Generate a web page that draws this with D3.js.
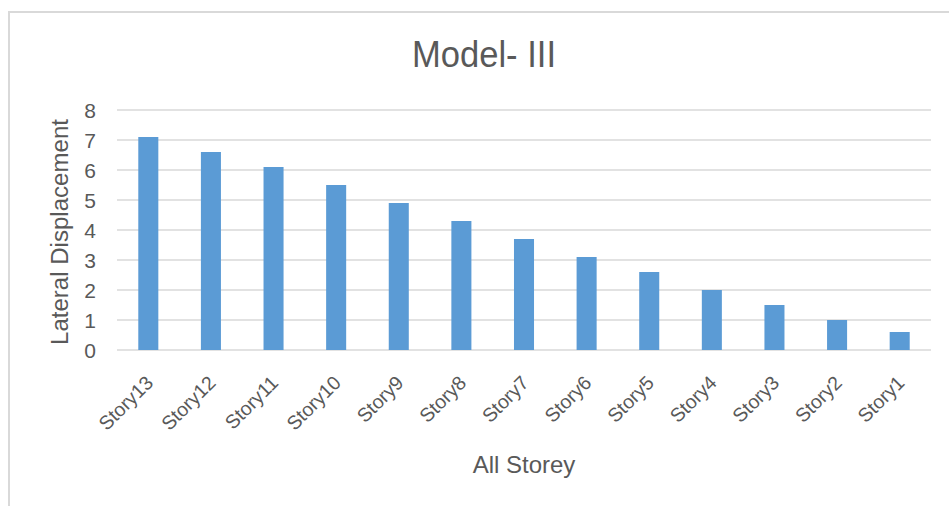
<!DOCTYPE html>
<html>
<head>
<meta charset="utf-8">
<script src="https://cdn.jsdelivr.net/npm/d3@7"></script>
<style>
  html, body { margin: 0; padding: 0; background: #fff; }
  svg { display: block; }
</style>
</head>
<body>
<svg id="chart" width="949" height="506"></svg>
<script>
// Storey labels, top floor first
const categories = ["Story13", "Story12", "Story11", "Story10", "Story9", "Story8", "Story7",
                    "Story6", "Story5", "Story4", "Story3", "Story2", "Story1"];
// Lateral displacement per storey
const displacement = [7.1, 6.6, 6.1, 5.5, 4.9, 4.3, 3.7, 3.1, 2.6, 2.0, 1.5, 1.0, 0.6];
const yTicks = [0, 1, 2, 3, 4, 5, 6, 7, 8];

const titleText = "Model- III";
const xTitle = "All Storey";
const yTitle = "Lateral Displacement";

const svg = d3.select("#chart");
const textColor = "#595959";
const gridColor = "#D9D9D9";
const barColor = "#5B9BD5";
const font = "'Liberation Sans', Arial, sans-serif";

// chart frame (runs off the right and bottom edges)
svg.append("path")
  .attr("d", "M9,520 L9,12 L960,12")
  .attr("fill", "none")
  .attr("stroke", gridColor)
  .attr("stroke-width", 2);

const plot = { left: 117, right: 931, top: 110, bottom: 350 };

const x = d3.scaleBand()
  .domain(categories)
  .range([plot.left, plot.right])
  .paddingInner(0.68)
  .paddingOuter(0.34);

const y = d3.scaleLinear()
  .domain([0, 8])
  .range([plot.bottom, plot.top]);

// horizontal gridlines
svg.append("g")
  .selectAll("line")
  .data(yTicks)
  .join("line")
  .attr("x1", plot.left)
  .attr("x2", plot.right)
  .attr("y1", d => y(d))
  .attr("y2", d => y(d))
  .attr("stroke", gridColor)
  .attr("stroke-width", 1.5);

// bars
svg.append("g")
  .selectAll("rect")
  .data(categories)
  .join("rect")
  .attr("x", d => x(d))
  .attr("width", x.bandwidth())
  .attr("y", (d, i) => y(displacement[i]))
  .attr("height", (d, i) => y(0) - y(displacement[i]))
  .attr("fill", barColor);

// y axis tick labels
const yAxis = d3.axisLeft(y).tickValues(yTicks).tickSize(0).tickPadding(0).tickFormat(d3.format("d"));
const gy = svg.append("g")
  .attr("transform", `translate(${plot.left - 21},0)`)
  .call(yAxis);
gy.select(".domain").remove();
gy.selectAll("text")
  .attr("fill", textColor)
  .attr("font-family", font)
  .attr("font-size", 21)
  .attr("dy", "0.36em");

// x axis tick labels, rotated
const xAxis = d3.axisBottom(x).tickSize(0).tickPadding(0);
const gx = svg.append("g")
  .attr("transform", `translate(0,${plot.bottom})`)
  .call(xAxis);
gx.select(".domain").remove();
gx.selectAll("text")
  .attr("fill", textColor)
  .attr("font-family", font)
  .attr("font-size", 19.5)
  .attr("text-anchor", "end")
  .attr("dy", 0)
  .attr("transform", "translate(6,34) rotate(-45)");

// chart title
svg.append("text")
  .attr("x", 484)
  .attr("y", 67)
  .attr("text-anchor", "middle")
  .attr("fill", textColor)
  .attr("font-family", font)
  .attr("font-size", 36)
  .attr("textLength", 144)
  .attr("lengthAdjust", "spacingAndGlyphs")
  .text(titleText);

// axis titles
svg.append("text")
  .attr("x", 524)
  .attr("y", 473)
  .attr("text-anchor", "middle")
  .attr("fill", textColor)
  .attr("font-family", font)
  .attr("font-size", 24)
  .text(xTitle);

svg.append("text")
  .attr("transform", "translate(68,232) rotate(-90)")
  .attr("text-anchor", "middle")
  .attr("fill", textColor)
  .attr("font-family", font)
  .attr("font-size", 23)
  .attr("textLength", 226)
  .attr("lengthAdjust", "spacingAndGlyphs")
  .text(yTitle);
</script>
</body>
</html>
